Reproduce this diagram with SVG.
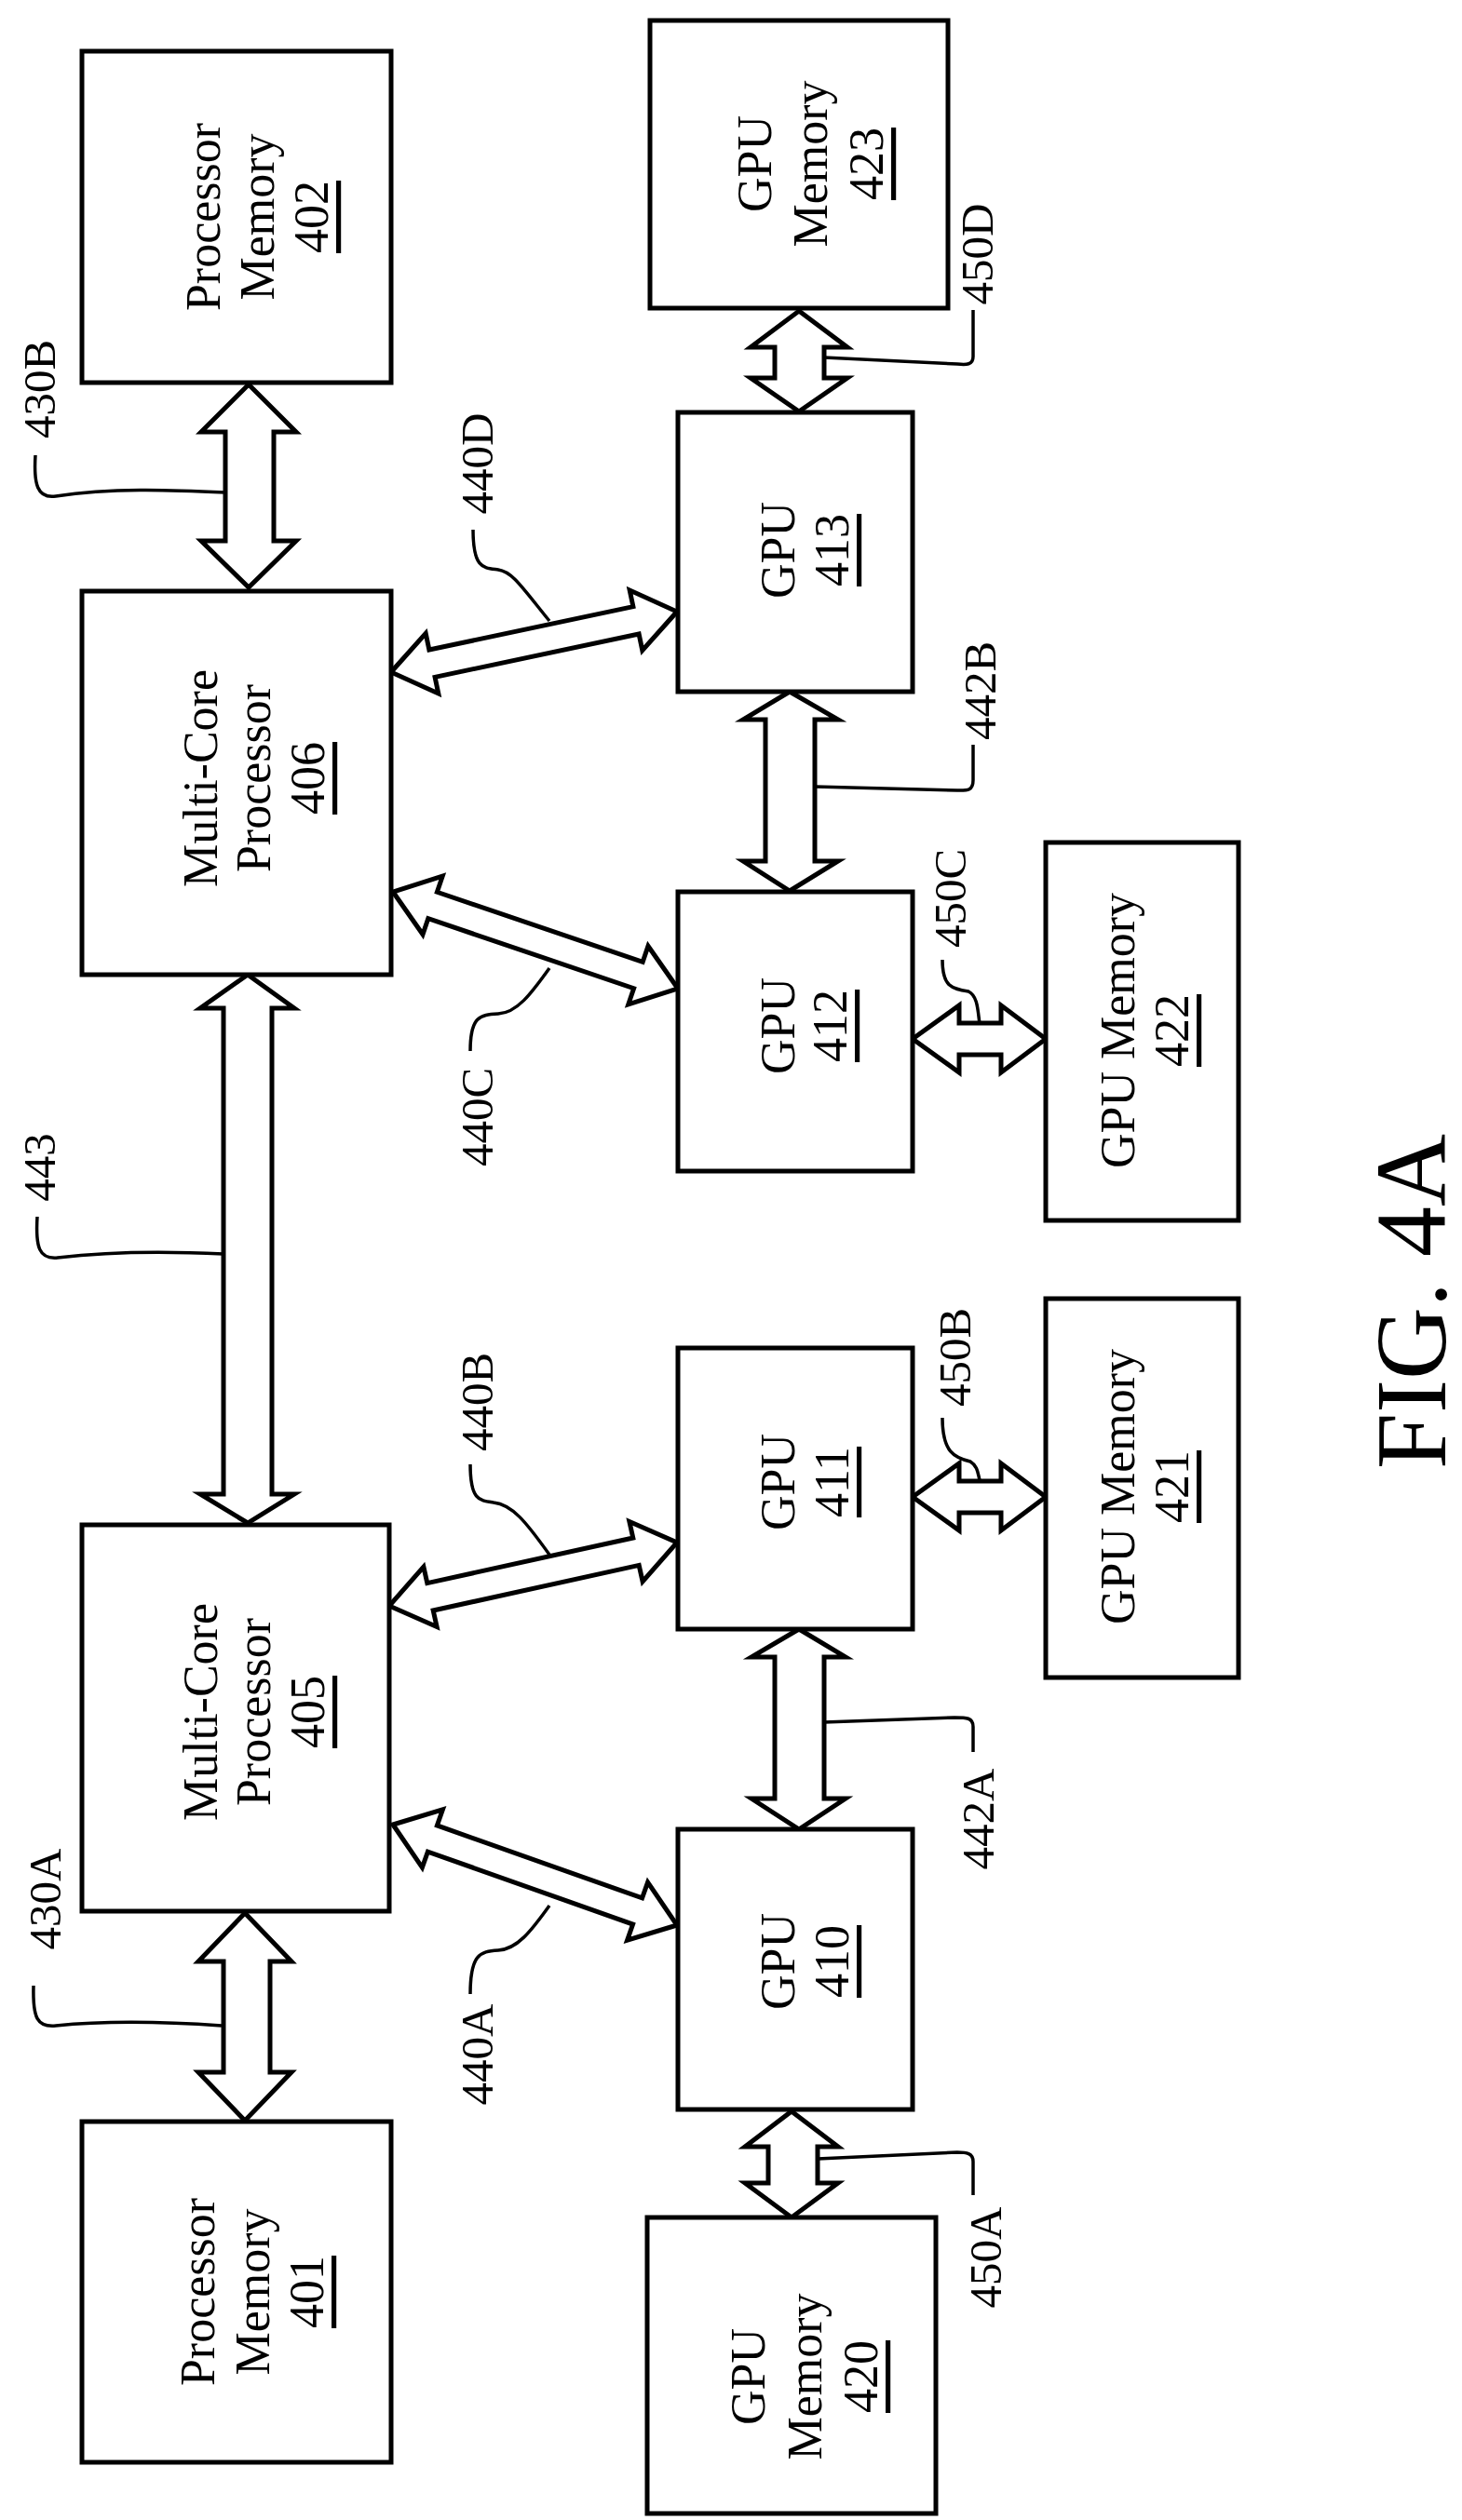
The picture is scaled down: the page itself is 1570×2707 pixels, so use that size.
<svg xmlns="http://www.w3.org/2000/svg" width="1570" height="2707" viewBox="0 0 1570 2707">
<style>
.b{fill:#fff;stroke:#000;stroke-width:5}
.a{fill:#fff;stroke:#000;stroke-width:5;stroke-linejoin:miter}
.l{fill:none;stroke:#000;stroke-width:3.5}
text{font-family:"Liberation Serif","Times New Roman",serif;fill:#000;text-anchor:middle;dominant-baseline:central}
.t{font-size:52px}
.n{font-size:49px}
.u{text-decoration:underline}
</style>
<rect width="1570" height="2707" fill="#fff"/>
<g id="connectors">
<polygon class="a" points="267,413 318,464 294,464 294,581 318,581 267,631 216,581 242,581 242,464 216,464"/>
<polygon class="a" points="858,334 910,373 885,373 885,406 910,406 858,442 806,406 832,406 832,373 806,373"/>
<polygon class="a" points="848,743 900,773 875,773 875,925 900,925 848,957 798,925 822,925 822,773 798,773"/>
<polygon class="a" points="266,1047 316,1083 292,1083 292,1605 316,1605 266,1636 215,1605 240,1605 240,1083 215,1083"/>
<polygon class="a" points="858,1750 908,1780 885,1780 885,1932 908,1932 858,1965 807,1932 832,1932 832,1780 807,1780"/>
<polygon class="a" points="263,2055 313,2107 290,2107 290,2226 313,2226 263,2278 213,2226 240,2226 240,2107 213,2107"/>
<polygon class="a" points="850,2268 900,2306 878,2306 878,2345 900,2345 850,2382 800,2345 825,2345 825,2306 800,2306"/>
<polygon class="a" points="420,722 470.8,745 467.1,727.4 686.1,681 689.8,698.6 727,657 676.2,634 679.9,651.6 460.9,698 457.2,680.4"/>
<polygon class="a" points="422,958 454,1003.8 459.8,986.7 680.6,1061.7 674.8,1078.8 728,1062 696,1016.2 690.2,1033.3 469.4,958.3 475.2,941.2"/>
<polygon class="a" points="418,1725 469.1,1747.5 465.2,1730 686.2,1681.4 690.1,1698.9 727,1657 675.9,1634.5 679.8,1652 458.8,1700.6 454.9,1683.1"/>
<polygon class="a" points="422,1960 453.4,2006.1 459.4,1989.1 679.6,2067.1 673.6,2084.1 727,2068 695.6,2021.9 689.6,2038.9 469.4,1960.9 475.4,1943.9"/>
<polygon class="a" points="980,1116 1030,1080 1030,1099 1075,1099 1075,1080 1123,1116 1075,1152 1075,1133 1030,1133 1030,1152"/>
<polygon class="a" points="980,1608 1030,1572 1030,1591 1075,1591 1075,1572 1123,1608 1075,1644 1075,1625 1030,1625 1030,1644"/>
<path class="l" d="M38,489 C36,520 40,536 60,533 C120,524 180,526 242,529"/>
<path class="l" d="M1045,333 L1045,383 C1045,392 1038,392 1028,391 L885,384"/>
<path class="l" d="M508,569 C508,612 520,610 535,612 C550,614 560,630 590,667"/>
<path class="l" d="M1045,800 L1045,838 C1045,850 1038,849 1028,849 L875,845"/>
<path class="l" d="M505,1129 C505,1092 515,1090 535,1089 C555,1088 570,1068 590,1040"/>
<path class="l" d="M1012,1031 C1012,1060 1022,1062 1040,1065 C1050,1070 1050,1085 1052,1100"/>
<path class="l" d="M40,1307 C38,1340 42,1353 62,1351 C120,1344 180,1344 240,1347"/>
<path class="l" d="M505,1573 C505,1612 515,1612 530,1614 C550,1616 565,1635 590,1670"/>
<path class="l" d="M1012,1523 C1012,1560 1025,1566 1042,1570 C1050,1575 1050,1582 1052,1590"/>
<path class="l" d="M1045,1882 L1045,1855 C1045,1845 1038,1845 1025,1845 L885,1850"/>
<path class="l" d="M505,2142 C505,2100 515,2096 535,2095 C555,2094 570,2075 590,2047"/>
<path class="l" d="M36,2133 C35,2168 40,2178 60,2176 C120,2170 180,2172 238,2176"/>
<path class="l" d="M1045,2358 L1045,2322 C1045,2313 1038,2312 1028,2312 L878,2319"/>
</g>
<g id="n402"><rect class="b" x="88" y="55" width="332" height="356"/>
<text class="t" transform="translate(275,233) rotate(-90)"><tspan x="0" dy="-57">Processor</tspan><tspan x="0" dy="58">Memory</tspan><tspan x="0" dy="58" class="u">402</tspan></text></g>
<g id="n423"><rect class="b" x="698" y="22" width="320" height="309"/>
<text class="t" transform="translate(870,176) rotate(-90)"><tspan x="0" dy="-60">GPU</tspan><tspan x="0" dy="60">Memory</tspan><tspan x="0" dy="60" class="u">423</tspan></text></g>
<g id="n413"><rect class="b" x="728" y="443" width="252" height="300"/>
<text class="t" transform="translate(864,591) rotate(-90)"><tspan x="0" dy="-29">GPU</tspan><tspan x="0" dy="58" class="u">413</tspan></text></g>
<g id="n406"><rect class="b" x="88" y="635" width="332" height="412"/>
<text class="t" transform="translate(272,836) rotate(-90)"><tspan x="0" dy="-57">Multi-Core</tspan><tspan x="0" dy="57">Processor</tspan><tspan x="0" dy="58" class="u">406</tspan></text></g>
<g id="n412"><rect class="b" x="728" y="958" width="252" height="300"/>
<text class="t" transform="translate(863,1102) rotate(-90)"><tspan x="0" dy="-28">GPU</tspan><tspan x="0" dy="56" class="u">412</tspan></text></g>
<g id="n422"><rect class="b" x="1123" y="905" width="207" height="406"/>
<text class="t" transform="translate(1229,1107) rotate(-90)"><tspan x="0" dy="-29">GPU Memory</tspan><tspan x="0" dy="58" class="u">422</tspan></text></g>
<g id="n405"><rect class="b" x="88" y="1638" width="330" height="415"/>
<text class="t" transform="translate(272,1839) rotate(-90)"><tspan x="0" dy="-57">Multi-Core</tspan><tspan x="0" dy="57">Processor</tspan><tspan x="0" dy="58" class="u">405</tspan></text></g>
<g id="n401"><rect class="b" x="88" y="2279" width="332" height="366"/>
<text class="t" transform="translate(271,2462) rotate(-90)"><tspan x="0" dy="-59">Processor</tspan><tspan x="0" dy="59">Memory</tspan><tspan x="0" dy="58" class="u">401</tspan></text></g>
<g id="n411"><rect class="b" x="728" y="1448" width="252" height="302"/>
<text class="t" transform="translate(864,1592) rotate(-90)"><tspan x="0" dy="-29">GPU</tspan><tspan x="0" dy="58" class="u">411</tspan></text></g>
<g id="n421"><rect class="b" x="1123" y="1395" width="207" height="407"/>
<text class="t" transform="translate(1229,1597) rotate(-90)"><tspan x="0" dy="-29">GPU Memory</tspan><tspan x="0" dy="58" class="u">421</tspan></text></g>
<g id="n410"><rect class="b" x="728" y="1965" width="252" height="301"/>
<text class="t" transform="translate(864,2107) rotate(-90)"><tspan x="0" dy="-29">GPU</tspan><tspan x="0" dy="58" class="u">410</tspan></text></g>
<g id="n420"><rect class="b" x="695" y="2382" width="310" height="318"/>
<text class="t" transform="translate(864,2553) rotate(-90)"><tspan x="0" dy="-61">GPU</tspan><tspan x="0" dy="61">Memory</tspan><tspan x="0" dy="60" class="u">420</tspan></text></g>
<g id="labels">
<text class="n" transform="translate(42,418) rotate(-90)">430B</text>
<text class="n" transform="translate(1049,273) rotate(-90)">450D</text>
<text class="n" transform="translate(512,498) rotate(-90)">440D</text>
<text class="n" transform="translate(1052,742) rotate(-90)">442B</text>
<text class="n" transform="translate(512,1200) rotate(-90)">440C</text>
<text class="n" transform="translate(1020,965) rotate(-90)">450C</text>
<text class="n" transform="translate(42,1254) rotate(-90)">443</text>
<text class="n" transform="translate(512,1506) rotate(-90)">440B</text>
<text class="n" transform="translate(1025,1458) rotate(-90)">450B</text>
<text class="n" transform="translate(1050,1954) rotate(-90)">442A</text>
<text class="n" transform="translate(512,2207) rotate(-90)">440A</text>
<text class="n" transform="translate(48,2040) rotate(-90)">430A</text>
<text class="n" transform="translate(1058,2425) rotate(-90)">450A</text>
<text style="font-size:108px" transform="translate(1515,1398) rotate(-90)">FIG. 4A</text>
</g>
</svg>
